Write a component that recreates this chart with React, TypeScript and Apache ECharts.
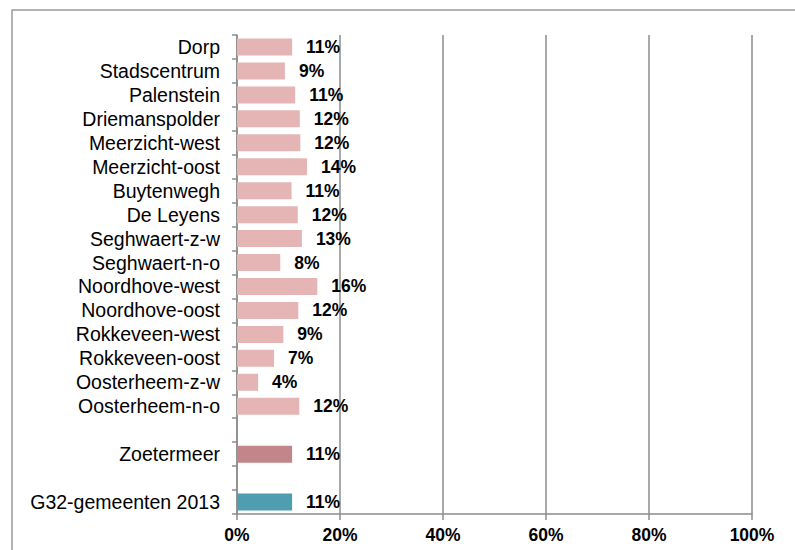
import React, { useEffect, useRef } from "react";
import * as echarts from "echarts";

const categories = [
  "Dorp", "Stadscentrum", "Palenstein", "Driemanspolder", "Meerzicht-west",
  "Meerzicht-oost", "Buytenwegh", "De Leyens", "Seghwaert-z-w", "Seghwaert-n-o",
  "Noordhove-west", "Noordhove-oost", "Rokkeveen-west", "Rokkeveen-oost",
  "Oosterheem-z-w", "Oosterheem-n-o", "", "Zoetermeer", "", "G32-gemeenten 2013",
];

const values: (number | null)[] = [
  10.7, 9.3, 11.3, 12.2, 12.3, 13.6, 10.6, 11.8, 12.6, 8.4,
  15.6, 11.9, 9.0, 7.2, 4.1, 12.1, null, 10.7, null, 10.7,
];

const xTicks = [0, 20, 40, 60, 80, 100];

const colorDistrict = "#E5B4B5";
const colorCity = "#C1858A";
const colorG32 = "#4E9DB1";

export default function App() {
  const ref = useRef<HTMLDivElement>(null);
  useEffect(() => {
    document.body.style.margin = "0";
    if (!ref.current) return;
    const chart = echarts.init(ref.current, null, { renderer: "svg" });
    const font = 'Arial, "Liberation Sans", sans-serif';
    const data = values.map((v, i) => {
      if (v === null) return "-";
      const c = categories[i];
      const color = c === "Zoetermeer" ? colorCity : c.startsWith("G32") ? colorG32 : colorDistrict;
      return { value: v, itemStyle: { color } };
    });
    chart.setOption({
      animation: false,
      backgroundColor: "#fff",
      graphic: [
        {
          type: "rect",
          shape: { x: 12, y: 10, width: 820, height: 600 },
          style: { fill: "none", stroke: "#9a9a9a", lineWidth: 1.5 },
          silent: true,
        },
      ],
      grid: { left: 237, right: 43, top: 35, bottom: 36, containLabel: false },
      xAxis: {
        type: "value",
        min: xTicks[0],
        max: xTicks[xTicks.length - 1],
        interval: 20,
        axisLine: { show: true, lineStyle: { color: "#8c8c8c", width: 1.5 } },
        axisTick: { show: true, length: 6, lineStyle: { color: "#8c8c8c", width: 1.5 } },
        splitLine: { show: true, lineStyle: { color: "#8c8c8c", width: 1.5 } },
        axisLabel: {
          formatter: "{value}%",
          color: "#000",
          fontWeight: "bold",
          fontSize: 17.5,
          fontFamily: font,
          margin: 12,
        },
      },
      yAxis: {
        type: "category",
        inverse: true,
        data: categories,
        axisLine: { show: true, lineStyle: { color: "#8c8c8c", width: 1.5 } },
        axisTick: { show: true, interval: 0, length: 5, lineStyle: { color: "#8c8c8c", width: 1.5 } },
        axisLabel: { color: "#000", fontSize: 19.5, fontFamily: font, margin: 17, interval: 0 },
        splitLine: { show: false },
      },
      series: [
        {
          type: "bar",
          data,
          barWidth: 17,
          label: {
            show: true,
            position: "right",
            distance: 14,
            color: "#000",
            fontWeight: "bold",
            fontSize: 17.5,
            fontFamily: font,
            formatter: (p: any) => Math.round(p.value) + "%",
          },
        },
      ],
    });
    return () => chart.dispose();
  }, []);
  return <div ref={ref} style={{ width: 795, height: 550 }} />;
}
